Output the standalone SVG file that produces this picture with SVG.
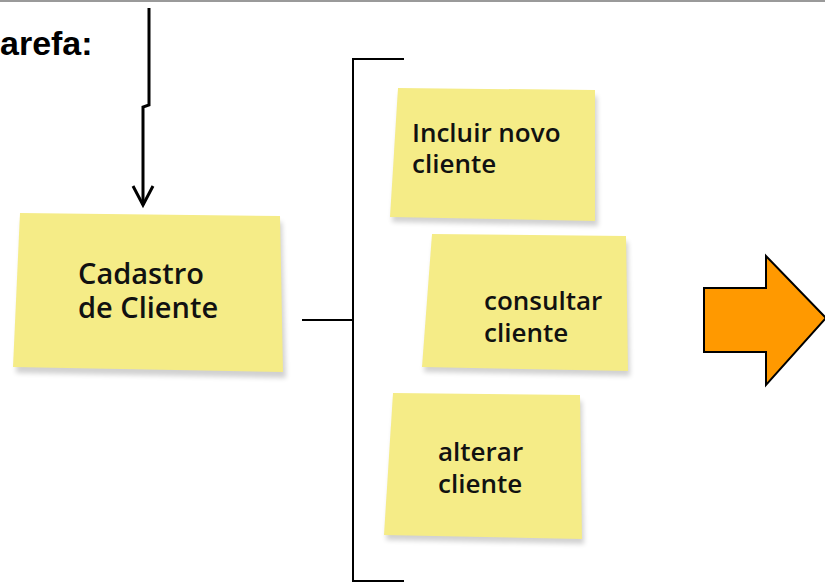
<svg xmlns="http://www.w3.org/2000/svg" width="825" height="585" viewBox="0 0 825 585">
<defs>
<style>
.note{fill:#f5ec87;}
.shadow{fill:#000;opacity:0.18;filter:url(#blur);}
.hand{font-family:"Open Sans","DejaVu Sans",sans-serif;font-weight:600;fill:#111;font-size:26px;}
.ln{stroke:#000;stroke-width:2;fill:none;}
.thick{stroke-width:3;}
</style>
<filter id="blur" x="-10%" y="-10%" width="120%" height="130%"><feGaussianBlur stdDeviation="2.5"/></filter>
<linearGradient id="ng" x1="0" y1="0" x2="0" y2="1">
<stop offset="0" stop-color="#f7ee8c"/><stop offset="1" stop-color="#f1e67d"/>
</linearGradient>
</defs>
<rect width="825" height="585" fill="#fff"/>
<line x1="0" y1="1" x2="825" y2="1" stroke="#9a9a9a" stroke-width="2"/>
<text x="0" y="55" font-family="Liberation Sans, Arial, sans-serif" font-weight="bold" font-size="34" fill="#000">arefa:</text>

<g id="connectors">
<polyline class="ln thick" points="149,8 149,105 143,107 143,205"/>
<polyline class="ln thick" points="133,186 143,205 153,186"/>
<polyline class="ln" points="404,59 353,59 353,581 404,581"/>
<line class="ln" x1="302" y1="320" x2="353" y2="320"/>
</g>

<g id="cadastro">
<polygon class="shadow" points="22,220 282,222 286,378 16,373"/>
<polygon class="note" fill="url(#ng)" points="20,213 280,216 283,372 13,367"/>
<text class="hand" style="font-size:29px"><tspan x="78" y="284">Cadastro</tspan><tspan x="78" y="318">de Cliente</tspan></text>
</g>

<g id="incluir">
<polygon class="shadow" points="400,94 597,96 598,226 392,222"/>
<polygon class="note" points="398,88 595,90 595,221 390,217"/>
<text class="hand"><tspan x="412" y="142">Incluir novo</tspan><tspan x="412" y="173">cliente</tspan></text>
</g>

<g id="consultar">
<polygon class="shadow" points="434,240 628,242 630,376 424,372"/>
<polygon class="note" points="432,234 626,236 628,371 422,367"/>
<text class="hand"><tspan x="484" y="310">consultar</tspan><tspan x="484" y="342">cliente</tspan></text>
</g>

<g id="alterar">
<polygon class="shadow" points="395,399 582,401 584,544 386,540"/>
<polygon class="note" points="393,393 580,395 582,539 384,535"/>
<text class="hand"><tspan x="438" y="461">alterar</tspan><tspan x="438" y="493">cliente</tspan></text>
</g>

<g id="orange-arrow">
<polygon points="704,288 766,288 766,256 826,318 766,385 766,352 704,352" fill="#ff9900" stroke="#000" stroke-width="2"/>
</g>
</svg>
